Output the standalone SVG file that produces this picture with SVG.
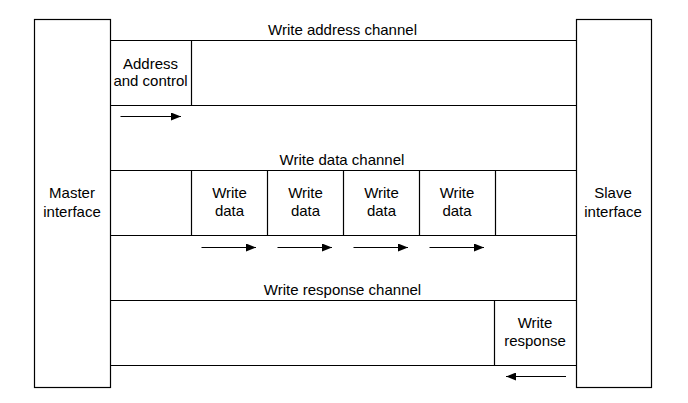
<svg xmlns="http://www.w3.org/2000/svg" width="688" height="403" viewBox="0 0 688 403">
<style>
.b{fill:#fff;stroke:#000;stroke-width:1.2}
.l{fill:none;stroke:#000;stroke-width:1.2}
.a{fill:none;stroke:#000;stroke-width:1.2;marker-end:url(#ah)}
text{font-family:"Liberation Sans",Arial,sans-serif;font-size:15px;fill:#000;text-anchor:middle}
</style>
<defs>
<marker id="ah" viewBox="0 0 10 8" refX="10" refY="4" markerWidth="10" markerHeight="8" markerUnits="userSpaceOnUse" orient="auto">
<path d="M0,0 L10,4 L0,8 Z" fill="#000"/>
</marker>
</defs>
<g id="channels">
<path class="l" d="M110,40.5 H576.5 M110,105.5 H576.5 M110,170.5 H576.5 M110,235.5 H576.5 M110,300.5 H576.5 M110,365.5 H576.5"/>
<text x="342.5" y="35">Write address channel</text>
<text x="342" y="165">Write data channel</text>
<text x="342.5" y="295">Write response channel</text>
</g>
<g id="master"><rect class="b" x="34.5" y="19.5" width="76" height="368"/><text x="72" y="198">Master</text><text x="72" y="217">interface</text></g>
<g id="slave"><rect class="b" x="576.5" y="19.5" width="75" height="368"/><text x="613" y="198">Slave</text><text x="613" y="217">interface</text></g>
<g id="addr"><path class="l" d="M191.5,40.5 V105.5"/><text x="150.5" y="69">Address</text><text x="150.5" y="86">and control</text></g>
<g id="wd1"><path class="l" d="M191.5,170.5 V235.5"/><text x="229.5" y="198">Write</text><text x="229.5" y="216">data</text></g>
<g id="wd2"><path class="l" d="M267.5,170.5 V235.5"/><text x="305.5" y="198">Write</text><text x="305.5" y="216">data</text></g>
<g id="wd3"><path class="l" d="M343.5,170.5 V235.5"/><text x="381.5" y="198">Write</text><text x="381.5" y="216">data</text></g>
<g id="wd4"><path class="l" d="M419.5,170.5 V235.5 M495.5,170.5 V235.5"/><text x="457" y="198">Write</text><text x="457" y="216">data</text></g>
<g id="wr"><path class="l" d="M494.5,300.5 V365.5"/><text x="535" y="328">Write</text><text x="535" y="346">response</text></g>
<g id="connectors">
<path class="a" d="M120.5,116.5 H181"/>
<path class="a" d="M201.5,247.5 H256"/>
<path class="a" d="M277.5,247.5 H332"/>
<path class="a" d="M353.5,247.5 H408"/>
<path class="a" d="M429.5,247.5 H484"/>
<path class="a" d="M566,376.5 H506"/>
</g>
</svg>
